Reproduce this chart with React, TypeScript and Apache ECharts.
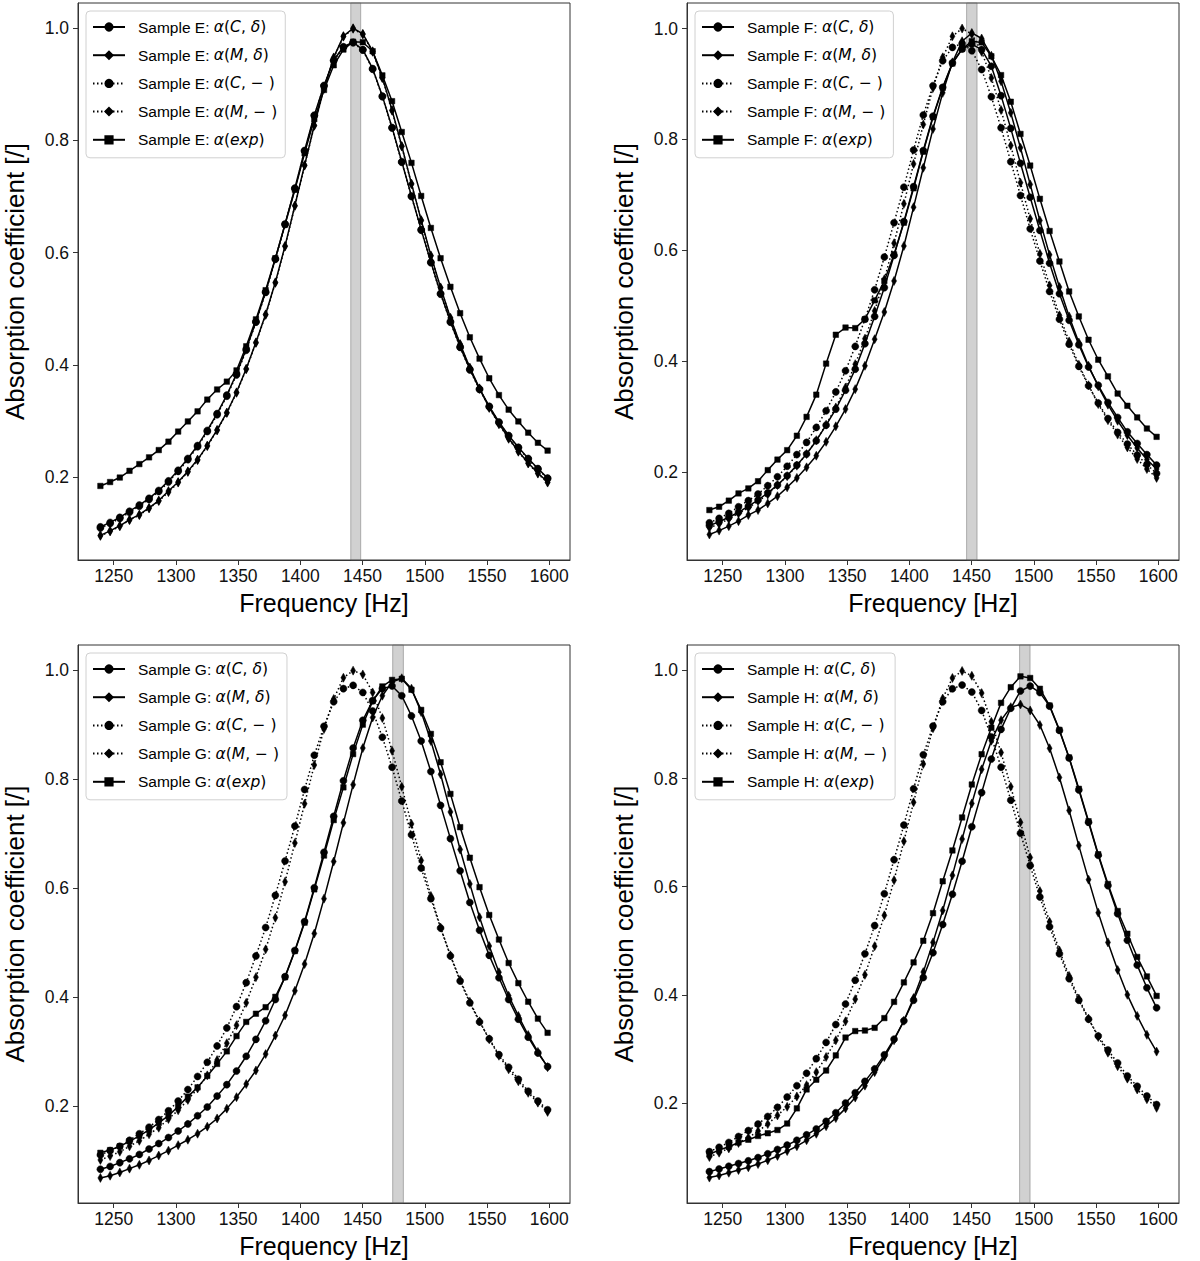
import React, { useEffect, useRef } from "react";
import * as echarts from "echarts";

const freqs = [1239.3, 1247.1, 1254.9, 1262.7, 1270.6, 1278.4, 1286.2, 1294.0, 1301.8, 1309.6, 1317.4, 1325.2, 1333.1, 1340.9, 1348.7, 1356.5, 1364.3, 1372.1, 1379.9, 1387.7, 1395.6, 1403.4, 1411.2, 1419.0, 1426.8, 1434.6, 1442.4, 1450.2, 1458.1, 1465.9, 1473.7, 1481.5, 1489.3, 1497.1, 1504.9, 1512.7, 1520.6, 1528.4, 1536.2, 1544.0, 1551.8, 1559.6, 1567.4, 1575.2, 1583.1, 1590.9, 1598.7];

const xTicks = [1250, 1300, 1350, 1400, 1450, 1500, 1550, 1600];
const yTicks = [0.2, 0.4, 0.6, 0.8, 1.0];
const xLimits = [1221.3, 1616.7];

const bandE = [1440.5, 1448.5];
const bandF = [1446.0, 1454.4];
const bandG = [1474.2, 1482.8];
const bandH = [1488.6, 1497.0];

const yLimE = [0.052, 1.045];
const yLimF = [0.042, 1.046];
const yLimG = [0.023, 1.046];
const yLimH = [0.015, 1.047];

// Sample E
const eCd = [0.111, 0.119, 0.128, 0.139, 0.150, 0.162, 0.176, 0.193, 0.212, 0.233,
  0.256, 0.283, 0.313, 0.346, 0.384, 0.428, 0.477, 0.530, 0.589, 0.651,
  0.715, 0.782, 0.845, 0.898, 0.943, 0.967, 0.975, 0.962, 0.928, 0.879,
  0.823, 0.762, 0.701, 0.641, 0.583, 0.527, 0.477, 0.432, 0.392, 0.357,
  0.326, 0.298, 0.274, 0.253, 0.233, 0.215, 0.198];
const eMd = [0.096, 0.104, 0.113, 0.124, 0.133, 0.145, 0.158, 0.175, 0.191, 0.210,
  0.231, 0.256, 0.284, 0.315, 0.351, 0.393, 0.440, 0.490, 0.547, 0.612,
  0.684, 0.756, 0.827, 0.893, 0.948, 0.986, 1.000, 0.990, 0.959, 0.912,
  0.854, 0.790, 0.723, 0.658, 0.595, 0.538, 0.484, 0.437, 0.395, 0.358,
  0.324, 0.295, 0.269, 0.246, 0.225, 0.207, 0.191];
const eCm = [0.109, 0.117, 0.126, 0.137, 0.148, 0.160, 0.174, 0.191, 0.210, 0.231,
  0.254, 0.281, 0.311, 0.344, 0.382, 0.426, 0.476, 0.529, 0.588, 0.650,
  0.714, 0.781, 0.844, 0.897, 0.942, 0.966, 0.974, 0.961, 0.927, 0.878,
  0.822, 0.761, 0.700, 0.640, 0.582, 0.526, 0.476, 0.431, 0.391, 0.356,
  0.325, 0.297, 0.273, 0.252, 0.232, 0.214, 0.197];
const eMm = [0.095, 0.103, 0.112, 0.123, 0.132, 0.144, 0.157, 0.173, 0.190, 0.209,
  0.230, 0.255, 0.283, 0.314, 0.350, 0.392, 0.439, 0.489, 0.546, 0.611,
  0.683, 0.755, 0.826, 0.892, 0.947, 0.985, 0.999, 0.989, 0.958, 0.911,
  0.853, 0.789, 0.722, 0.657, 0.594, 0.537, 0.483, 0.436, 0.394, 0.357,
  0.323, 0.294, 0.268, 0.245, 0.224, 0.206, 0.190];
const eExp = [0.184, 0.191, 0.199, 0.211, 0.223, 0.235, 0.248, 0.263, 0.281, 0.299,
  0.317, 0.338, 0.356, 0.370, 0.390, 0.433, 0.481, 0.533, 0.590, 0.650,
  0.712, 0.777, 0.838, 0.890, 0.934, 0.962, 0.976, 0.975, 0.959, 0.916,
  0.870, 0.815, 0.760, 0.701, 0.644, 0.590, 0.539, 0.492, 0.449, 0.411,
  0.376, 0.346, 0.320, 0.299, 0.279, 0.261, 0.247];

// Sample F
const fCd = [0.104, 0.111, 0.119, 0.128, 0.139, 0.150, 0.163, 0.177, 0.194, 0.213,
  0.233, 0.257, 0.285, 0.314, 0.348, 0.386, 0.432, 0.481, 0.533, 0.591,
  0.652, 0.715, 0.780, 0.842, 0.894, 0.938, 0.963, 0.972, 0.962, 0.932,
  0.879, 0.820, 0.757, 0.696, 0.636, 0.577, 0.522, 0.474, 0.430, 0.390,
  0.357, 0.326, 0.299, 0.273, 0.252, 0.232, 0.213];
const fMd = [0.088, 0.095, 0.103, 0.112, 0.123, 0.132, 0.144, 0.157, 0.173, 0.190,
  0.209, 0.230, 0.255, 0.283, 0.314, 0.350, 0.392, 0.440, 0.489, 0.545,
  0.608, 0.678, 0.749, 0.819, 0.884, 0.939, 0.977, 0.992, 0.982, 0.951,
  0.905, 0.848, 0.785, 0.719, 0.654, 0.592, 0.534, 0.481, 0.434, 0.392,
  0.355, 0.322, 0.293, 0.267, 0.244, 0.223, 0.206];
const fCm = [0.109, 0.117, 0.126, 0.138, 0.149, 0.161, 0.176, 0.192, 0.211, 0.232,
  0.254, 0.281, 0.311, 0.345, 0.383, 0.427, 0.476, 0.529, 0.588, 0.650,
  0.714, 0.781, 0.844, 0.897, 0.942, 0.966, 0.973, 0.960, 0.926, 0.877,
  0.821, 0.760, 0.699, 0.639, 0.581, 0.526, 0.476, 0.431, 0.391, 0.356,
  0.325, 0.297, 0.272, 0.251, 0.231, 0.214, 0.198];
const fMm = [0.100, 0.107, 0.116, 0.126, 0.136, 0.148, 0.160, 0.177, 0.193, 0.212,
  0.233, 0.258, 0.286, 0.317, 0.353, 0.395, 0.441, 0.491, 0.548, 0.613,
  0.684, 0.756, 0.827, 0.893, 0.948, 0.986, 1.000, 0.990, 0.958, 0.911,
  0.853, 0.789, 0.722, 0.657, 0.594, 0.537, 0.483, 0.436, 0.394, 0.357,
  0.323, 0.294, 0.268, 0.245, 0.224, 0.206, 0.190];
const fExp = [0.132, 0.138, 0.149, 0.162, 0.171, 0.184, 0.204, 0.223, 0.240, 0.266,
  0.300, 0.340, 0.396, 0.448, 0.461, 0.460, 0.476, 0.510, 0.545, 0.593,
  0.650, 0.712, 0.778, 0.840, 0.893, 0.937, 0.963, 0.977, 0.975, 0.950,
  0.916, 0.868, 0.810, 0.753, 0.693, 0.635, 0.580, 0.526, 0.481, 0.439,
  0.403, 0.373, 0.342, 0.320, 0.299, 0.279, 0.264];

// Sample G
const gCd = [0.085, 0.090, 0.097, 0.104, 0.112, 0.122, 0.132, 0.143, 0.155, 0.168,
  0.183, 0.199, 0.219, 0.240, 0.265, 0.292, 0.323, 0.357, 0.396, 0.438,
  0.486, 0.539, 0.601, 0.666, 0.732, 0.797, 0.857, 0.908, 0.944, 0.966,
  0.971, 0.953, 0.916, 0.870, 0.814, 0.752, 0.691, 0.632, 0.574, 0.523,
  0.477, 0.436, 0.396, 0.360, 0.327, 0.298, 0.273];
const gMd = [0.069, 0.073, 0.079, 0.086, 0.093, 0.101, 0.110, 0.119, 0.129, 0.139,
  0.150, 0.163, 0.178, 0.196, 0.217, 0.241, 0.266, 0.296, 0.330, 0.367,
  0.412, 0.461, 0.517, 0.581, 0.649, 0.720, 0.790, 0.857, 0.913, 0.953,
  0.978, 0.985, 0.966, 0.923, 0.870, 0.809, 0.740, 0.671, 0.608, 0.547,
  0.494, 0.446, 0.403, 0.366, 0.331, 0.300, 0.272];
const gCm = [0.111, 0.119, 0.127, 0.138, 0.150, 0.162, 0.176, 0.192, 0.210, 0.231,
  0.255, 0.281, 0.311, 0.344, 0.383, 0.427, 0.476, 0.528, 0.587, 0.650,
  0.714, 0.781, 0.844, 0.897, 0.942, 0.966, 0.972, 0.959, 0.925, 0.877,
  0.822, 0.760, 0.698, 0.637, 0.581, 0.527, 0.476, 0.430, 0.390, 0.355,
  0.324, 0.295, 0.272, 0.250, 0.228, 0.210, 0.194];
const gMm = [0.102, 0.109, 0.117, 0.127, 0.137, 0.149, 0.161, 0.177, 0.193, 0.212,
  0.233, 0.257, 0.285, 0.316, 0.349, 0.390, 0.437, 0.488, 0.546, 0.612,
  0.683, 0.755, 0.826, 0.892, 0.947, 0.986, 0.999, 0.992, 0.959, 0.912,
  0.852, 0.786, 0.718, 0.651, 0.586, 0.528, 0.477, 0.432, 0.392, 0.356,
  0.323, 0.293, 0.268, 0.246, 0.225, 0.207, 0.190];
const gExp = [0.115, 0.120, 0.127, 0.136, 0.146, 0.157, 0.170, 0.183, 0.200, 0.218,
  0.235, 0.256, 0.278, 0.301, 0.329, 0.355, 0.370, 0.382, 0.401, 0.437,
  0.485, 0.537, 0.598, 0.660, 0.725, 0.785, 0.846, 0.900, 0.943, 0.970,
  0.982, 0.984, 0.964, 0.927, 0.883, 0.831, 0.773, 0.712, 0.656, 0.602,
  0.551, 0.506, 0.463, 0.426, 0.392, 0.361, 0.335];

// Sample H
const hCd = [0.073, 0.078, 0.083, 0.088, 0.093, 0.099, 0.106, 0.114, 0.122, 0.131,
  0.141, 0.152, 0.166, 0.182, 0.200, 0.219, 0.240, 0.263, 0.289, 0.318,
  0.352, 0.390, 0.432, 0.478, 0.530, 0.586, 0.647, 0.711, 0.774, 0.836,
  0.891, 0.930, 0.962, 0.971, 0.959, 0.934, 0.889, 0.838, 0.779, 0.719,
  0.658, 0.602, 0.550, 0.501, 0.455, 0.413, 0.376];
const hMd = [0.062, 0.066, 0.071, 0.076, 0.081, 0.087, 0.094, 0.102, 0.111, 0.120,
  0.131, 0.143, 0.157, 0.172, 0.190, 0.210, 0.232, 0.257, 0.285, 0.316,
  0.352, 0.394, 0.442, 0.497, 0.556, 0.621, 0.688, 0.754, 0.817, 0.870,
  0.908, 0.932, 0.937, 0.926, 0.899, 0.856, 0.802, 0.741, 0.676, 0.613,
  0.552, 0.497, 0.446, 0.400, 0.361, 0.326, 0.295];
const hCm = [0.110, 0.118, 0.127, 0.138, 0.149, 0.161, 0.175, 0.192, 0.211, 0.232,
  0.255, 0.282, 0.312, 0.345, 0.383, 0.427, 0.476, 0.528, 0.587, 0.650,
  0.714, 0.781, 0.844, 0.897, 0.942, 0.966, 0.973, 0.960, 0.926, 0.877,
  0.821, 0.760, 0.699, 0.639, 0.581, 0.526, 0.476, 0.430, 0.390, 0.355,
  0.324, 0.298, 0.274, 0.250, 0.231, 0.213, 0.197];
const hMm = [0.100, 0.108, 0.116, 0.126, 0.136, 0.148, 0.161, 0.177, 0.193, 0.212,
  0.233, 0.257, 0.285, 0.316, 0.351, 0.392, 0.437, 0.490, 0.547, 0.612,
  0.684, 0.756, 0.827, 0.893, 0.948, 0.986, 0.999, 0.990, 0.958, 0.905,
  0.848, 0.785, 0.719, 0.654, 0.592, 0.535, 0.482, 0.435, 0.393, 0.356,
  0.322, 0.293, 0.268, 0.245, 0.225, 0.207, 0.191];
const hExp = [0.105, 0.113, 0.119, 0.127, 0.132, 0.139, 0.144, 0.150, 0.162, 0.190,
  0.225, 0.243, 0.260, 0.288, 0.321, 0.333, 0.334, 0.339, 0.357, 0.387,
  0.423, 0.460, 0.500, 0.551, 0.610, 0.667, 0.728, 0.789, 0.845, 0.894,
  0.940, 0.969, 0.989, 0.986, 0.966, 0.935, 0.890, 0.839, 0.781, 0.721,
  0.660, 0.605, 0.555, 0.513, 0.470, 0.434, 0.398];

const seriesLabels = ["α(C, δ)", "α(M, δ)", "α(C, −)", "α(M, −)", "α(exp)"];
const seriesSymbols = ["circle", "diamond", "circle", "diamond", "rect"];
const seriesDotted = [false, false, true, true, false];

const panels = [
  { sample: "E", values: [eCd, eMd, eCm, eMm, eExp], band: bandE, yLim: yLimE },
  { sample: "F", values: [fCd, fMd, fCm, fMm, fExp], band: bandF, yLim: yLimF },
  { sample: "G", values: [gCd, gMd, gCm, gMm, gExp], band: bandG, yLim: yLimG },
  { sample: "H", values: [hCd, hMd, hCm, hMm, hExp], band: bandH, yLim: yLimH },
];

const gridBoxes = [
  { left: 78, top: 3, width: 492, height: 557 },
  { left: 687, top: 3, width: 492, height: 557 },
  { left: 78, top: 645, width: 492, height: 558 },
  { left: 687, top: 645, width: 492, height: 558 },
];

const FONT = "'Liberation Sans', Arial, Helvetica, sans-serif";
const ITALIC = new Set(["α", "δ", "C", "M", "e", "x", "p"]);
const LEG_FS = 15.5;

function legendFormatter(name: string) {
  const idx = name.indexOf(": ");
  const pre = name.slice(0, idx + 2);
  const math = name.slice(idx + 2);
  let out = pre;
  for (const ch of Array.from(math)) {
    if (ITALIC.has(ch)) out += `{i|${ch}}`;
    else if (ch === "−") out += `{m|− }`;
    else out += `{m|${ch}}`;
  }
  return out;
}

function symbolSizeFor(sym: string): any {
  if (sym === "circle") return 7;
  if (sym === "diamond") return [5, 9];
  return 5.5;
}

export default function App() {
  const ref = useRef<HTMLDivElement>(null);
  useEffect(() => {
    if (!ref.current) return;
    const chart = echarts.init(ref.current, null, { renderer: "svg" });
    const grid: any[] = [];
    const xAxis: any[] = [];
    const yAxis: any[] = [];
    const legend: any[] = [];
    const series: any[] = [];
    panels.forEach((p, gi) => {
      const g = gridBoxes[gi];
      grid.push({ ...g, show: true, borderColor: "#333", borderWidth: 1, backgroundColor: "transparent" });
      xAxis.push({
        type: "value",
        gridIndex: gi,
        min: xLimits[0],
        max: xLimits[1],
        name: "Frequency [Hz]",
        nameLocation: "middle",
        nameGap: 30,
        nameTextStyle: { fontFamily: FONT, fontSize: 25, color: "#000" },
        axisLine: { show: true, lineStyle: { color: "#333", width: 1 } },
        axisTick: { show: true, length: 5, inside: false, customValues: xTicks, lineStyle: { color: "#333", width: 1 } },
        axisLabel: {
          customValues: xTicks,
          fontFamily: FONT,
          fontSize: 17.5,
          color: "#111",
          margin: 7,
          formatter: (v: number) => String(Math.round(v)),
        },
        splitLine: { show: false },
      });
      yAxis.push({
        type: "value",
        gridIndex: gi,
        min: p.yLim[0],
        max: p.yLim[1],
        name: "Absorption coefficient [/]",
        nameLocation: "middle",
        nameRotate: 90,
        nameGap: 50,
        nameTextStyle: { fontFamily: FONT, fontSize: 26, color: "#000" },
        axisLine: { show: true, lineStyle: { color: "#333", width: 1 } },
        axisTick: { show: true, length: 5, inside: false, customValues: yTicks, lineStyle: { color: "#333", width: 1 } },
        axisLabel: {
          customValues: yTicks,
          fontFamily: FONT,
          fontSize: 17.5,
          color: "#111",
          margin: 9,
          formatter: (v: number) => v.toFixed(1),
        },
        splitLine: { show: false },
      });
      series.push({
        type: "line",
        name: "_band" + p.sample,
        xAxisIndex: gi,
        yAxisIndex: gi,
        data: [],
        silent: true,
        z: 1,
        markArea: {
          silent: true,
          itemStyle: { color: "rgba(128,128,128,0.36)", borderColor: "rgba(100,100,100,0.45)", borderWidth: 1 },
          data: [[{ xAxis: p.band[0] }, { xAxis: p.band[1] }]],
        },
      });
      const names: string[] = [];
      p.values.forEach((vals, si) => {
        const name = `Sample ${p.sample}: ${seriesLabels[si]}`;
        names.push(name);
        series.push({
          type: "line",
          name,
          xAxisIndex: gi,
          yAxisIndex: gi,
          data: freqs.map((f, i) => [f, vals[i]]),
          symbol: seriesSymbols[si],
          symbolSize: symbolSizeFor(seriesSymbols[si]),
          showAllSymbol: true,
          z: 3,
          lineStyle: { color: "#000", width: 1.5, type: seriesDotted[si] ? [1.5, 2.5] : "solid" },
          itemStyle: { color: "#000", borderColor: "#000", borderWidth: 0.5 },
          emphasis: { disabled: true },
        });
      });
      legend.push({
        data: names,
        orient: "vertical",
        left: g.left + 8,
        top: g.top + 8,
        itemWidth: 32,
        itemHeight: 9,
        itemGap: 12.2,
        padding: [8, 8, 10, 6],
        backgroundColor: "rgba(255,255,255,0.8)",
        borderColor: "#d0d0d0",
        borderWidth: 1,
        borderRadius: 4,
        selectedMode: false,
        formatter: legendFormatter,
        textStyle: {
          fontFamily: FONT,
          fontSize: LEG_FS,
          color: "#000",
          padding: [0, 0, 0, 8],
          rich: {
            i: { fontFamily: "'DejaVu Sans', sans-serif", fontStyle: "italic", fontSize: LEG_FS, color: "#000" },
            m: { fontFamily: "'DejaVu Sans', sans-serif", fontSize: LEG_FS, color: "#000" },
          },
        },
      });
    });
    chart.setOption({
      animation: false,
      backgroundColor: "#fff",
      grid,
      xAxis,
      yAxis,
      legend,
      series,
    });
    return () => chart.dispose();
  }, []);
  return (
    <div
      ref={ref}
      style={{ position: "absolute", left: 0, top: 0, width: 1200, height: 1261, background: "#fff" }}
    />
  );
}
